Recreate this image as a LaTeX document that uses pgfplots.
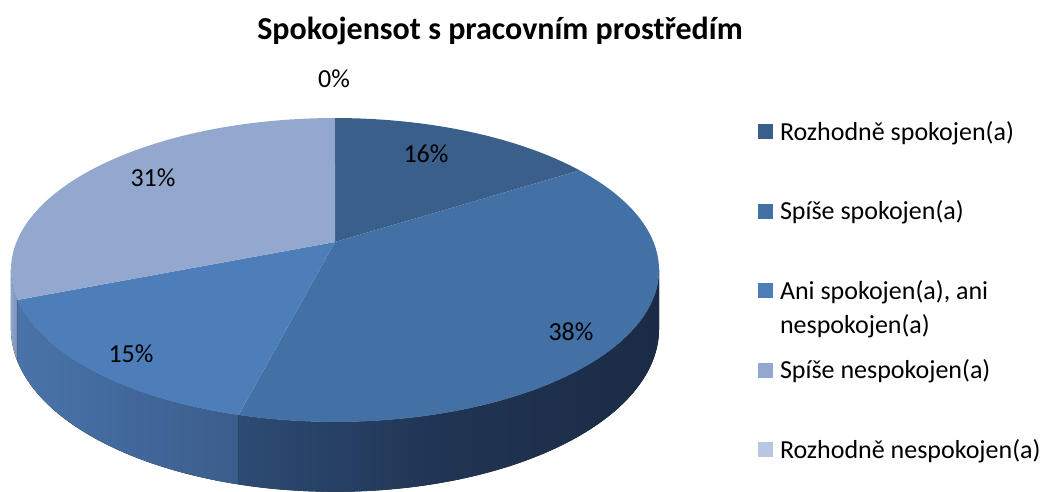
\documentclass[border=0pt]{standalone}
\usepackage{fontspec}
\setmainfont{Carlito}
\usepackage{pgfplots}
\pgfplotsset{compat=1.18}

% slice colours (top faces / legend)
\definecolor{c1}{HTML}{3A5F8B}
\definecolor{c2}{HTML}{4371A6}
\definecolor{c3}{HTML}{4D7EBA}
\definecolor{c4}{HTML}{93A8CF}
\definecolor{c5}{HTML}{B9C6E1}
% side walls
\definecolor{s2L}{HTML}{2D4B73}
\definecolor{s2M}{HTML}{203453}
\definecolor{s2R}{HTML}{1B2B45}
\definecolor{s3L}{HTML}{4A74A9}
\definecolor{s3M}{HTML}{42689B}
\definecolor{s3R}{HTML}{3A5D8B}
\definecolor{s4L}{HTML}{8FA4CB}
\definecolor{s4R}{HTML}{7C92BD}

% shares in percent
\def\pA{16}\def\pB{38}\def\pC{15}\def\pD{31}\def\pE{0}

\newcommand\lbl{\fontsize{26}{32}\selectfont}
\newcommand\legent[1]{\rule[-7pt]{0pt}{32pt}\smash{#1}}

\begin{document}
\begin{tikzpicture}
% cumulative angles, clockwise from the top
\pgfmathsetmacro\aA{0}
\pgfmathsetmacro\aB{\aA+3.6*\pA}
\pgfmathsetmacro\aC{\aB+3.6*\pB}
\pgfmathsetmacro\aD{\aC+3.6*\pC}
\pgfmathsetmacro\aE{\aD+3.6*\pD}
% visible part of the wall
\pgfmathsetmacro\vL{acos(-0.1842)}
\pgfmathsetmacro\vR{360-\vL}
\pgfmathsetmacro\bS{max(\aB,\vL)}\pgfmathsetmacro\bE{min(\aC,\vR)}
\pgfmathsetmacro\cS{max(\aC,\vL)}\pgfmathsetmacro\cE{min(\aD,\vR)}
\pgfmathsetmacro\dS{max(\aD,\vL)}\pgfmathsetmacro\dE{min(\aE,\vR)}
\begin{axis}[
    scale only axis,width=1050pt,height=491pt,
    xmin=0,xmax=1050,ymin=0,ymax=491,y dir=reverse,
    hide axis,clip=false,
    declare function={
      pieX(\t)=335+318.5*sin(\t)/(1+0.1842*cos(\t));
      pieY(\t)=242-146.8*cos(\t)/(1+0.1842*cos(\t));
      pieYb(\t)=242+(57-146.8*cos(\t))/(1+0.1842*cos(\t));
    },
    legend image code/.code={\path[#1,draw=none] (0pt,1pt) rectangle (15pt,16pt);},
    legend style={at={(axis cs:758,115)},anchor=north west,draw=none,fill=none,
      inner sep=0pt,outer sep=0pt,font=\lbl,row sep=53pt,column sep=7pt,
      cells={anchor=base west},nodes={inner sep=0pt}},
  ]
  % side walls
  \fill[left color=s2L,right color=s2R,middle color=s2M]
    plot[domain=\bS:\bE,samples=60,variable=\t] (axis cs:{pieX(\t)},{pieY(\t)})
    -- plot[domain=\bE:\bS,samples=60,variable=\t] (axis cs:{pieX(\t)},{pieYb(\t)}) -- cycle;
  \fill[left color=s3L,right color=s3R,middle color=s3M]
    plot[domain=\cS:\cE,samples=40,variable=\t] (axis cs:{pieX(\t)},{pieY(\t)})
    -- plot[domain=\cE:\cS,samples=40,variable=\t] (axis cs:{pieX(\t)},{pieYb(\t)}) -- cycle;
  \fill[left color=s4L,right color=s4R]
    plot[domain=\dS:\dE,samples=10,variable=\t] (axis cs:{pieX(\t)},{pieY(\t)})
    -- plot[domain=\dE:\dS,samples=10,variable=\t] (axis cs:{pieX(\t)},{pieYb(\t)}) -- cycle;

  % top faces
  \addplot[fill=c1,draw=none,domain=\aA:\aB,samples=40,variable=\t]
    ({pieX(\t)},{pieY(\t)}) -- (axis cs:335,242) -- cycle;
  \addlegendentry{\legent{Rozhodně spokojen(a)}}
  \addplot[fill=c2,draw=none,domain=\aB:\aC,samples=80,variable=\t]
    ({pieX(\t)},{pieY(\t)}) -- (axis cs:335,242) -- cycle;
  \addlegendentry{\legent{Spíše spokojen(a)}}
  \addplot[fill=c3,draw=none,domain=\aC:\aD,samples=40,variable=\t]
    ({pieX(\t)},{pieY(\t)}) -- (axis cs:335,242) -- cycle;
  \addlegendentry{\legent{\begin{tabular}[t]{@{}l@{}}Ani spokojen(a), ani\\[2pt]nespokojen(a)\end{tabular}}}
  \addplot[fill=c4,draw=none,domain=\aD:\aE,samples=60,variable=\t]
    ({pieX(\t)},{pieY(\t)}) -- (axis cs:335,242) -- cycle;
  \addlegendentry{\legent{Spíše nespokojen(a)}}
  \addlegendimage{fill=c5,draw=none}
  \addlegendentry{\legent{Rozhodně nespokojen(a)}}

  % data labels
  \node[font=\lbl,anchor=base] at (axis cs:334,88) {0\%};
  \node[font=\lbl,anchor=base] at (axis cs:426,163) {16\%};
  \node[font=\lbl,anchor=base] at (axis cs:571,340) {38\%};
  \node[font=\lbl,anchor=base] at (axis cs:131,362) {15\%};
  \node[font=\lbl,anchor=base] at (axis cs:153,187) {31\%};

  % title
  \node[font=\bfseries\fontsize{32}{38}\selectfont,anchor=base] at (axis cs:500,40)
    {Spokojensot s pracovním prostředím};
\end{axis}
\path (current axis.south west) rectangle (current axis.north east);
\end{tikzpicture}
\end{document}
